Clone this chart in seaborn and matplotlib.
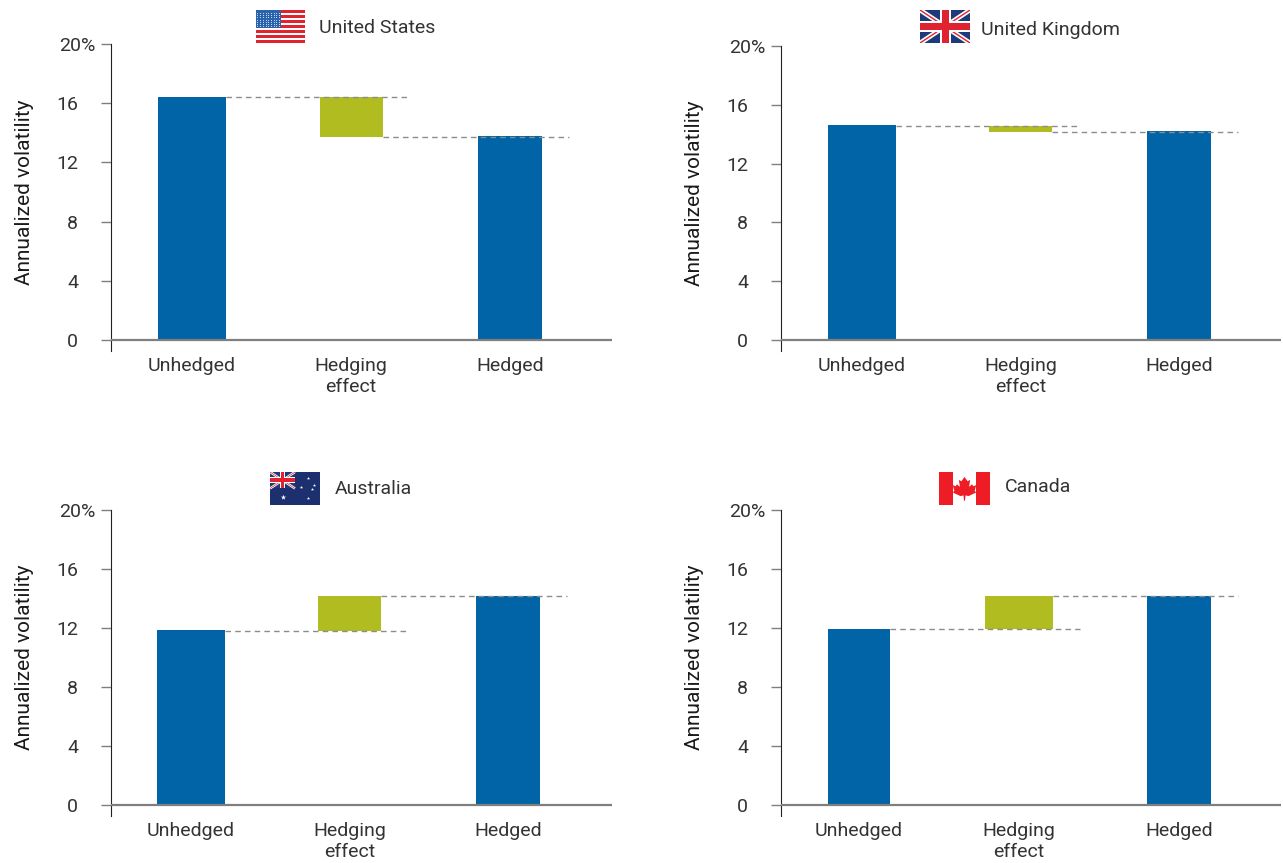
import matplotlib
matplotlib.use("Agg")
import matplotlib.pyplot as plt
from matplotlib.patches import Polygon, Rectangle
from matplotlib.transforms import ScaledTranslation
import seaborn as sns

# Values
categories = ["Unhedged", "Hedging\neffect", "Hedged"]
countries = ["United States", "United Kingdom", "Australia", "Canada"]
unhedged = [16.45, 14.6, 11.85, 11.9]
hedged = [13.8, 14.25, 14.2, 14.15]
effect_low = [13.7, 14.15, 11.8, 11.9]
effect_high = [16.4, 14.55, 14.2, 14.15]
y_ticks = [0, 4, 8, 12, 16, 20]
y_labels = ["0", "4", "8", "12", "16", "20%"]

BLUE = "#0064a6"
GREEN = "#b1bc20"
GREY = "#7f7f7f"
TEXT = "#333333"
W, H = 1283, 863

sns.set_theme(style="white")
plt.rcParams["font.family"] = ["Roboto", "DejaVu Sans"]

# left, right, top (20%), zero line, centre of first bar, bar spacing, bar widths
panels = [
    (111, 612, 44, 340, 192, 159, (68, 63, 64)),
    (781, 1281, 46, 340, 862, 158.5, (68, 63, 64)),
    (111, 612, 510, 805, 191, 158.5, (68, 63, 64)),
    (781, 1281, 510, 805, 859, 160, (62, 68, 64)),
]
# flag box (x0, x1, y0, y1) and label position
flag_boxes = [(256, 305, 10, 43), (920, 970, 10, 43), (270, 320, 472, 505), (939, 990, 472, 505)]
label_pos = [(319, 28), (981, 30), (335, 489), (1005, 487)]


def union_jack(ax, x1=1.0, y0=0.0):
    ax.add_patch(Rectangle((0, y0), x1, 1 - y0, color="#1f3a7a", lw=0))
    for (a, b), (c, d) in [((0, y0), (x1, 1)), ((0, 1), (x1, y0))]:
        ax.plot([a, c], [b, d], color="white", lw=3.4 * x1, solid_capstyle="butt", zorder=2)
        ax.plot([a, c], [b, d], color="#e0242f", lw=1.0 * x1, solid_capstyle="butt", zorder=2)
    xm, ym = x1 / 2, (1 + y0) / 2
    ax.add_patch(Rectangle((xm - 0.11 * x1, y0), 0.22 * x1, 1 - y0, color="white", lw=0, zorder=3))
    ax.add_patch(Rectangle((0, ym - 0.17 * (1 - y0)), x1, 0.34 * (1 - y0), color="white", lw=0, zorder=3))
    ax.add_patch(Rectangle((xm - 0.07 * x1, y0), 0.14 * x1, 1 - y0, color="#e0242f", lw=0, zorder=4))
    ax.add_patch(Rectangle((0, ym - 0.11 * (1 - y0)), x1, 0.22 * (1 - y0), color="#e0242f", lw=0, zorder=4))


def draw_flag(ax, name):
    ax.set_xlim(0, 1)
    ax.set_ylim(0, 1)
    ax.axis("off")
    if name == "United States":
        for i in range(13):
            color = "#e0242f" if i % 2 == 0 else "white"
            ax.add_patch(Rectangle((0, i / 13), 1, 1 / 13, color=color, lw=0))
        ax.add_patch(Rectangle((0, 6 / 13), 0.5, 7 / 13, color="#2a62ad", lw=0))
        xs = [0.03 + 0.055 * i for i in range(9)]
        ys = [0.5 + 0.07 * j for j in range(7)]
        ax.scatter([x for x in xs for _ in ys], [y for _ in xs for y in ys], s=0.5,
                   color="#cfe0f2", lw=0, zorder=3)
    elif name == "United Kingdom":
        union_jack(ax)
    elif name == "Australia":
        ax.add_patch(Rectangle((0, 0), 1, 1, color="#1c2f6e", lw=0))
        union_jack(ax, 0.5, 0.5)
        ax.scatter([0.25], [0.24], s=16, marker="*", color="white", lw=0)
        ax.scatter([0.62, 0.75, 0.87, 0.75, 0.83], [0.55, 0.82, 0.62, 0.2, 0.48],
                   s=6, marker="*", color="white", lw=0)
    else:
        ax.add_patch(Rectangle((0, 0), 0.27, 1, color="#ee1c25", lw=0))
        ax.add_patch(Rectangle((0.73, 0), 0.27, 1, color="#ee1c25", lw=0))
        leaf = [(0.5, 0.85), (0.44, 0.72), (0.39, 0.76), (0.41, 0.55), (0.35, 0.63), (0.33, 0.57),
                (0.27, 0.6), (0.3, 0.43), (0.27, 0.38), (0.42, 0.27), (0.48, 0.29), (0.49, 0.13),
                (0.51, 0.13), (0.52, 0.29), (0.58, 0.27), (0.73, 0.38), (0.7, 0.43), (0.73, 0.6),
                (0.67, 0.57), (0.65, 0.63), (0.59, 0.55), (0.61, 0.76), (0.56, 0.72)]
        ax.add_patch(Polygon(leaf, closed=True, color="#ee1c25", lw=0))


fig = plt.figure(figsize=(W / 100, H / 100), dpi=100)

for i, country in enumerate(countries):
    left, right, top, zero, first, step, widths = panels[i]
    px_per_unit = (zero - top) / 20
    bottom_px = zero + 11
    ax = fig.add_axes([left / W, 1 - bottom_px / H, (right - left) / W, (bottom_px - top) / H])

    low, high = effect_low[i], effect_high[i]
    heights = [unhedged[i], high - low, hedged[i]]
    bottoms = [0, low, 0]
    colors = [BLUE, GREEN, BLUE]
    bar_w = [w / step for w in widths]

    for cat, h, b, c, w in zip(categories, heights, bottoms, colors, bar_w):
        sns.barplot(x=[cat], y=[h], order=categories, bottom=b, color=c,
                    width=w, saturation=1, linewidth=0, ax=ax)

    # connector lines between the bars
    over = 27 / step
    if hedged[i] < unhedged[i]:
        level1, level2 = high, low
    else:
        level1, level2 = low, high
    ax.plot([bar_w[0] / 2, 1 + bar_w[1] / 2 + over], [level1, level1],
            color="#8c8c8c", lw=1, dashes=(4, 3))
    ax.plot([1 + bar_w[1] / 2, 2 + bar_w[2] / 2 + over], [level2, level2],
            color="#8c8c8c", lw=1, dashes=(4, 3))

    ax.set_xlim((left - first) / step, (right - first) / step)
    ax.set_ylim(-11 / px_per_unit, 20)
    ax.axhline(0, color=GREY, lw=1.6, zorder=5)

    for side in ["top", "right", "bottom"]:
        ax.spines[side].set_visible(False)
    ax.spines["left"].set_color("#222222")
    ax.spines["left"].set_linewidth(0.8)

    ax.set_yticks(y_ticks, y_labels)
    ax.tick_params(axis="y", left=True, length=7.2, width=1, color=GREY, pad=16.5,
                   labelsize=14, labelcolor=TEXT)
    ax.tick_params(axis="x", bottom=False, length=0, pad=4, labelsize=14, labelcolor=TEXT)
    for lab in ax.get_xticklabels():
        lab.set_linespacing(1.25)
    # the percent sign hangs out to the right of the number column
    top_label = ax.get_yticklabels()[-1]
    top_label.set_transform(top_label.get_transform() + ScaledTranslation(17 / 100, 0, fig.dpi_scale_trans))

    ax.set_xlabel("")
    ax.set_ylabel("Annualized volatility", fontsize=15, color="#1a1a1a")
    ax.yaxis.set_label_coords(-77 / (right - left),
                              (bottom_px - (top + zero) / 2) / (bottom_px - top))

    x0, x1, y0, y1 = flag_boxes[i]
    flag_ax = fig.add_axes([x0 / W, 1 - y1 / H, (x1 - x0) / W, (y1 - y0) / H])
    draw_flag(flag_ax, country)
    fig.text(label_pos[i][0] / W, 1 - label_pos[i][1] / H, country, fontsize=14,
             color=TEXT, ha="left", va="center")

fig.savefig("out.png", dpi=100)
